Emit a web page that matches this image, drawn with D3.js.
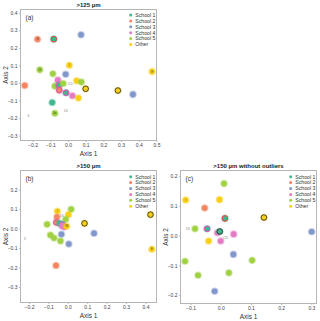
<!DOCTYPE html>
<html lang="en">
<head>
<meta charset="UTF-8">
<title>PCoA schools</title>
<style>
    html, body { margin: 0; padding: 0; background: #fff; }
    svg { display: block; font-family: "Liberation Sans", Arial, sans-serif; }
</style>
</head>
<body>
<div id="chart"></div>
<script src="https://cdn.jsdelivr.net/npm/d3@7"></script>
<script>
    // legend groups and colours
    const groups = ['School 1', 'School 2', 'School 3', 'School 4', 'School 5', 'Other'];
    const groupColors = ['#3fb68e', '#f4845f', '#8197cc', '#e57ac6', '#9fd143', '#f8cf14'];

    // points: [axis1, axis2, group index, inner label, ring]
    const pointsA = [
        [-0.172, 0.249, 1, '8', null],
        [-0.080, 0.250, 0, '', 'r'],
        [0.074, 0.275, 2, '', null],
        [0.008, 0.101, 5, 'I', null],
        [0.475, 0.065, 5, 'E', null],
        [-0.159, 0.075, 4, '11', null],
        [-0.085, 0.052, 4, '', null],
        [-0.013, 0.050, 2, '', null],
        [-0.244, -0.014, 1, '', null],
        [-0.057, 0.016, 3, '', null],
        [-0.074, -0.018, 4, '', null],
        [-0.051, -0.013, 0, '', 'p'],
        [-0.027, -0.003, 4, '', null],
        [-0.049, -0.041, 1, '', 'p'],
        [-0.011, -0.056, 0, '', 'p'],
        [0.025, -0.073, 3, '', null],
        [0.049, 0.012, 5, '', null],
        [0.076, 0.005, 4, '', null],
        [0.100, -0.033, 5, '', 'k'],
        [0.059, -0.086, 5, '', null],
        [0.282, -0.043, 5, '', 'k'],
        [0.367, -0.065, 2, '', null],
        [-0.089, -0.111, 0, '', null],
        [-0.074, -0.173, 4, '5a', null]
    ];
    const pointsB = [
        [-0.054, 0.089, 5, 'I', null],
        [0.017, 0.100, 4, '', null],
        [-0.056, 0.060, 1, '', null],
        [0.003, 0.072, 5, '', null],
        [-0.011, 0.048, 4, '', null],
        [0.086, 0.027, 5, '', 'k'],
        [0.426, 0.072, 5, '', 'k'],
        [0.433, -0.106, 5, 'E', null],
        [-0.107, 0.022, 4, '', null],
        [-0.059, 0.032, 1, '', 'p'],
        [-0.042, 0.027, 0, '', null],
        [-0.028, 0.021, 0, '', 'p'],
        [-0.018, 0.008, 3, '', null],
        [-0.030, 0.014, 3, '', null],
        [-0.006, 0.012, 5, '98', null],
        [0.135, -0.024, 2, '', null],
        [-0.090, -0.033, 4, '', null],
        [-0.071, -0.048, 4, '', null],
        [-0.033, -0.029, 2, '', null],
        [-0.038, -0.064, 4, '', null],
        [0.005, -0.079, 2, '', null],
        [-0.061, -0.190, 1, '', null]
    ];
    const pointsC = [
        [0.011, 0.175, 4, '', null],
        [-0.116, 0.120, 5, 'I', null],
        [-0.004, 0.121, 5, '', null],
        [-0.053, 0.093, 1, '', null],
        [0.014, 0.058, 0, '', 'r'],
        [0.143, 0.061, 5, '', 'k'],
        [0.301, 0.013, 2, '', null],
        [-0.085, 0.023, 4, '', null],
        [-0.045, 0.023, 0, '', 'p'],
        [-0.011, 0.010, 3, '', null],
        [-0.003, 0.014, 0, '', 'k'],
        [0.043, 0.005, 3, '', null],
        [-0.040, -0.018, 5, '', null],
        [0.000, -0.018, 3, '', null],
        [0.042, -0.063, 2, '', null],
        [-0.118, -0.086, 4, '', null],
        [0.104, -0.083, 4, '', null],
        [0.027, -0.125, 4, '', null],
        [-0.075, -0.133, 4, '', null],
        [-0.020, -0.187, 2, '', null]
    ];

    // free grey labels: [text, axis1, axis2]
    const notesA = [['CD', 0.013, -0.004], ['16', -0.013, -0.158], ['3', -0.225, -0.187]];
    const notesB = [['16', -0.031, 0.063], ['3', -0.222, -0.055]];
    const notesC = [['16', -0.109, 0.021], ['CD', 0.016, -0.008]];

    const ticksA = { x: [-0.2, -0.1, 0, 0.1, 0.2, 0.3, 0.4, 0.5], y: [-0.3, -0.2, -0.1, 0, 0.1, 0.2, 0.3, 0.4] };
    const ticksB = { x: [-0.2, -0.1, 0, 0.1, 0.2, 0.3, 0.4], y: [-0.3, -0.2, -0.1, 0, 0.1, 0.2] };
    const ticksC = { x: [-0.1, 0, 0.1, 0.2, 0.3], y: [-0.2, -0.1, 0, 0.1, 0.2] };

    const ringColors = { k: '#222', r: '#e8463a', p: '#e04fbf' };

    const svg = d3.select('#chart').append('svg')
        .attr('width', 320)
        .attr('height', 321);

    function panel(cfg) {
        const x = d3.scaleLinear().domain(cfg.xd).range([cfg.x0, cfg.x1]);
        const y = d3.scaleLinear().domain(cfg.yd).range([cfg.y1, cfg.y0]);
        const g = svg.append('g');

        // title
        g.append('text')
            .attr('x', (cfg.x0 + cfg.x1) / 2)
            .attr('y', cfg.y0 - 3)
            .attr('text-anchor', 'middle')
            .attr('font-size', 6)
            .attr('font-weight', 'bold')
            .attr('fill', '#222')
            .text(cfg.title);

        // x axis
        const xa = g.append('g')
            .attr('transform', `translate(0,${cfg.y1})`)
            .call(d3.axisBottom(x).tickValues(cfg.ticks.x).tickSize(1.5).tickPadding(1.5)
                .tickFormat(d3.format('.1f')));
        const ya = g.append('g')
            .attr('transform', `translate(${cfg.x0},0)`)
            .call(d3.axisLeft(y).tickValues(cfg.ticks.y).tickSize(1.5).tickPadding(1.5)
                .tickFormat(d3.format('.1f')));
        [xa, ya].forEach(a => {
            a.select('.domain').remove();
            a.selectAll('line').attr('stroke', '#777').attr('stroke-width', 0.5);
            a.selectAll('text').attr('font-size', 5).attr('fill', '#444')
                .attr('font-family', '"Liberation Sans", Arial, sans-serif');
        });

        // frame
        g.append('rect')
            .attr('x', cfg.x0)
            .attr('y', cfg.y0)
            .attr('width', cfg.x1 - cfg.x0)
            .attr('height', cfg.y1 - cfg.y0)
            .attr('fill', 'none')
            .attr('stroke', '#b5b5b5')
            .attr('stroke-width', 1);

        // axis titles
        g.append('text')
            .attr('x', (cfg.x0 + cfg.x1) / 2)
            .attr('y', cfg.y1 + 15)
            .attr('text-anchor', 'middle')
            .attr('font-size', 6.5)
            .attr('fill', '#333')
            .text('Axis 1');
        g.append('text')
            .attr('transform', `translate(${cfg.x0 - 13},${(cfg.y0 + cfg.y1) / 2}) rotate(-90)`)
            .attr('text-anchor', 'middle')
            .attr('font-size', 6.5)
            .attr('fill', '#333')
            .text('Axis 2');

        // panel letter
        g.append('text')
            .attr('x', cfg.x0 + 5)
            .attr('y', cfg.y0 + 10)
            .attr('font-size', 6.5)
            .attr('fill', '#333')
            .text(cfg.letter);

        // notes
        g.append('g').selectAll('text')
            .data(cfg.notes)
            .join('text')
            .attr('x', d => x(d[1]))
            .attr('y', d => y(d[2]) + 1)
            .attr('text-anchor', 'middle')
            .attr('font-size', 3.5)
            .attr('fill', '#888')
            .text(d => d[0]);

        // points
        const pts = g.append('g').selectAll('g')
            .data(cfg.points)
            .join('g')
            .attr('transform', d => `translate(${x(d[0])},${y(d[1])})`);
        pts.append('circle')
            .attr('r', 3.8)
            .attr('fill', d => groupColors[d[2]])
            .attr('opacity', 0.45);
        pts.append('circle')
            .attr('r', 2.8)
            .attr('fill', d => groupColors[d[2]])
            .attr('stroke', d => d[4] ? ringColors[d[4]] : 'none')
            .attr('stroke-width', d => d[4] === 'k' ? 0.8 : 1);
        pts.append('text')
            .attr('y', 1)
            .attr('text-anchor', 'middle')
            .attr('font-size', 2.8)
            .attr('fill', '#333')
            .text(d => d[3]);

        // legend
        const lg = g.append('g').selectAll('g')
            .data(groups)
            .join('g')
            .attr('transform', (d, i) => `translate(${cfg.lx},${cfg.ly + i * 5.9})`);
        lg.append('circle')
            .attr('r', 1.5)
            .attr('fill', (d, i) => groupColors[i]);
        lg.append('text')
            .attr('x', 4.5)
            .attr('y', 1.8)
            .attr('font-size', 5.2)
            .attr('fill', '#333')
            .text(d => d);
    }

    panel({
        title: '>125 µm', letter: '(a)',
        x0: 20.5, x1: 156.5, y0: 9.5, y1: 140.5,
        xd: [-0.268, 0.5], yd: [-0.328, 0.419],
        ticks: ticksA, points: pointsA, notes: notesA,
        lx: 130.7, ly: 15
    });
    panel({
        title: '>150 µm', letter: '(b)',
        x0: 20.5, x1: 156.5, y0: 170.5, y1: 302.5,
        xd: [-0.244, 0.457], yd: [-0.38, 0.299],
        ticks: ticksB, points: pointsB, notes: notesB,
        lx: 130.7, ly: 176.7
    });
    panel({
        title: '>150 µm without outliers', letter: '(c)',
        x0: 180.5, x1: 316.5, y0: 170.5, y1: 303.5,
        xd: [-0.133, 0.317], yd: [-0.228, 0.219],
        ticks: ticksC, points: pointsC, notes: notesC,
        lx: 290.7, ly: 176.7
    });
</script>
</body>
</html>
